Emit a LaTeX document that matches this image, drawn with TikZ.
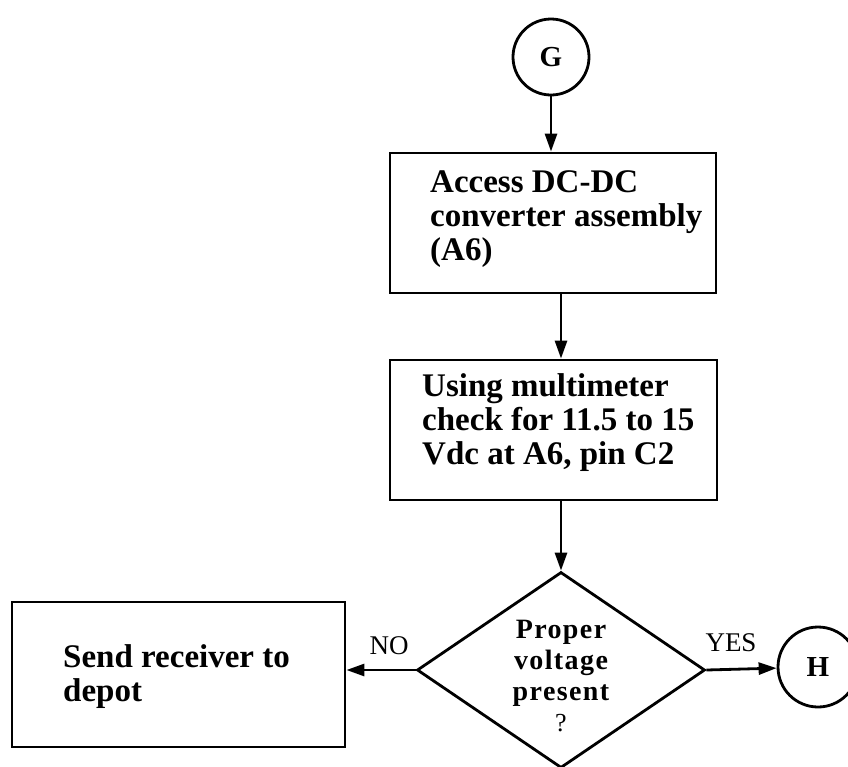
\documentclass[tikz,border=0pt]{standalone}
\usepackage{fontspec}
\setmainfont{Liberation Serif}
\newfontfamily\spaced[LetterSpace=5]{Liberation Serif}
\usetikzlibrary{arrows.meta,shapes.geometric,calc}
\begin{document}
\begin{tikzpicture}[x=1pt,y=-1pt,
  procbox/.style={draw, rectangle, line width=2.8pt, inner sep=0pt},
  decbox/.style={draw, diamond, line width=2.8pt, inner sep=0pt},
  conn/.style={draw, circle, line width=2.8pt, inner sep=0pt, font=\bfseries\fontsize{29}{30}\selectfont},
  boxtext/.style={anchor=west, align=left, inner sep=0pt, font=\bfseries\fontsize{33}{34}\selectfont},
  dectext/.style={align=center, inner sep=0pt, font=\spaced\bfseries\fontsize{28}{31}\selectfont},
  lbl/.style={inner sep=0pt, font=\fontsize{27}{28}\selectfont},
  arr/.style={line width=2.8pt, -{Triangle[length=18pt,width=12pt]}}]
\useasboundingbox (0,0) rectangle (848,766);

\node[conn, minimum size=76pt] (G) at (551,57) {G};
\node[procbox, minimum width=326pt, minimum height=140pt] (b1) at (553,223) {};
\node[boxtext] (t1) at (430,219) {Access DC-DC\\converter assembly\\(A6)};
\node[procbox, minimum width=327pt, minimum height=140pt] (b2) at (553.5,430) {};
\node[boxtext] (t2) at (422,423) {Using multimeter\\check for 11.5 to 15\\Vdc at A6, pin C2};
\node[decbox, minimum width=288pt, minimum height=196pt] (d) at (561,670) {};
\node[dectext] (dt) at (561,676) {Proper\\voltage\\present\\{\mdseries\fontsize{26}{31}\selectfont ?}};
\node[procbox, minimum width=333pt, minimum height=145pt] (b3) at (178.5,674.5) {};
\node[boxtext] (t3) at (63,677) {Send receiver to\\depot};
\node[conn, minimum size=80pt] (H) at (818,667) {H};
\node[lbl] (no) at (389,646) {NO};
\node[lbl] (yes) at (731,643) {YES};

\draw[arr] (G) -- (G |- b1.north);
\draw[arr] (b1.south -| d.north) -- (b2.north -| d.north);
\draw[arr] (b2.south -| d.north) -- (d.north);
\draw[arr] (d.west) -- (d.west -| b3.east);
\draw[arr] (d.east) -- (H);
\end{tikzpicture}
\end{document}
